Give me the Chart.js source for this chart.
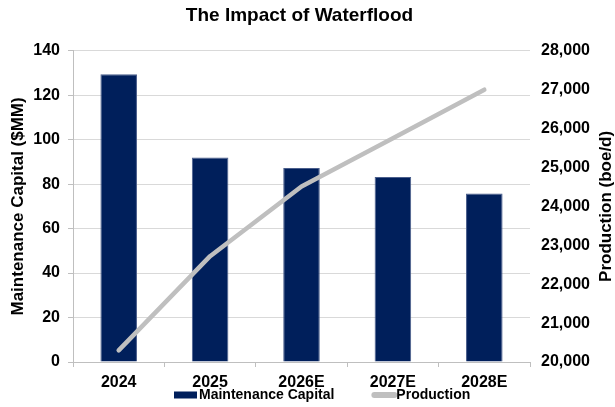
<!DOCTYPE html>
<html>
<head>
<meta charset="utf-8">
<script src="https://cdn.jsdelivr.net/npm/chart.js@4/dist/chart.umd.min.js"></script>
<style>
  html, body { margin: 0; padding: 0; background: #fff; }
  #wrap { width: 615px; height: 407px; }
</style>
</head>
<body>
<div id="wrap"><canvas id="chart"></canvas></div>
<script>
// chart data
var years = ['2024', '2025', '2026E', '2027E', '2028E'];
var maintCapital = [129.5, 92, 87.3, 83.2, 75.8];
var production = [20300, 22720, 24510, 25750, 27000];
var capitalTicks = [0, 140, 20];
var productionTicks = [20000, 28000, 1000];

var NAVY = '#001F5B',
	GREY = '#BFBFBF',
	FONT = '"Liberation Sans", Arial, sans-serif';

Chart.defaults.font.family = FONT;
Chart.defaults.color = '#000';

// right axis title reads bottom-to-top, so it is drawn here
var rightTitle = {
	id: 'rightTitle',
	afterDraw: function( chart ){
		var ctx = chart.ctx, a = chart.chartArea;
		ctx.save();
		ctx.translate( 606, ( a.top + a.bottom ) / 2 );
		ctx.rotate( -Math.PI / 2 );
		ctx.font = 'bold 17px ' + FONT;
		ctx.fillStyle = '#000';
		ctx.textAlign = 'center';
		ctx.textBaseline = 'middle';
		ctx.fillText( 'Production (boe/d)', 0, 0 );
		ctx.restore();
	}
};

// legend along the bottom edge
var bottomLegend = {
	id: 'bottomLegend',
	afterDraw: function( chart ){
		var ctx = chart.ctx,
			ds = chart.data.datasets,
			y = 395,
			x = 174;
		ctx.save();
		ctx.font = 'bold 14px ' + FONT;
		ctx.textBaseline = 'middle';
		ctx.fillStyle = '#000';
		for( var i = 0; i < ds.length; i++ ){
			if( ds[i].type == 'bar' ){
				ctx.fillStyle = ds[i].backgroundColor;
				ctx.fillRect( x, y - 3.5, 23, 7 );
			}else{
				ctx.strokeStyle = ds[i].borderColor;
				ctx.lineWidth = 6;
				ctx.lineCap = 'round';
				ctx.beginPath();
				ctx.moveTo( x + 3, y );
				ctx.lineTo( x + 23, y );
				ctx.stroke();
			}
			ctx.fillStyle = '#000';
			ctx.fillText( ds[i].label, x + 25, y );
			x += 25 + ctx.measureText( ds[i].label ).width + 37;
		}
		ctx.restore();
	}
};

new Chart( document.getElementById( 'chart' ).getContext( '2d' ), {
	data: {
		labels: years,
		datasets: [
			{
				type: 'bar',
				label: 'Maintenance Capital',
				data: maintCapital,
				yAxisID: 'y',
				backgroundColor: NAVY,
				borderColor: '#4A5E8C',
				borderWidth: 1,
				categoryPercentage: 1,
				barPercentage: 0.4,
				order: 1
			},
			{
				type: 'line',
				label: 'Production',
				data: production,
				yAxisID: 'y1',
				borderColor: GREY,
				borderWidth: 4.5,
				borderCapStyle: 'round',
				borderJoinStyle: 'round',
				pointRadius: 0,
				tension: 0,
				fill: false,
				order: 0
			}
		]
	},
	options: {
		responsive: true,
		maintainAspectRatio: false,
		animation: false,
		layout: { padding: { left: 0, right: 16, top: 0, bottom: 0 } },
		plugins: {
			legend: { display: false },
			tooltip: { enabled: false },
			title: {
				display: true,
				text: 'The Impact of Waterflood',
				font: { size: 19, weight: 'bold' },
				color: '#000',
				padding: { top: 4, bottom: 24 }
			}
		},
		scales: {
			x: {
				grid: { display: true, drawOnChartArea: false, offset: true, color: GREY, tickLength: 5 },
				border: { color: GREY },
				ticks: { font: { size: 16, weight: 'bold' }, padding: 6, maxRotation: 0 },
				afterFit: function( s ){ s.height = 45; }
			},
			y: {
				position: 'left',
				min: capitalTicks[0],
				max: capitalTicks[1],
				ticks: { stepSize: capitalTicks[2], font: { size: 16, weight: 'bold' }, padding: 8 },
				grid: { color: '#D9D9D9', tickColor: GREY, tickLength: 5 },
				border: { color: GREY },
				title: {
					display: true,
					text: 'Maintenance Capital ($MM)',
					font: { size: 17, weight: 'bold' },
					color: '#000',
					padding: { top: 8, bottom: 0 }
				},
				afterFit: function( s ){ s.width = 73; }
			},
			y1: {
				position: 'right',
				min: productionTicks[0],
				max: productionTicks[1],
				ticks: {
					stepSize: productionTicks[2],
					font: { size: 16, weight: 'bold' },
					padding: 11,
					callback: function( v ){ return v.toLocaleString( 'en-US' ); }
				},
				grid: { drawOnChartArea: false, drawTicks: false },
				border: { display: false },
				afterFit: function( s ){ s.width = 69; }
			}
		}
	},
	plugins: [ rightTitle, bottomLegend ]
} );
</script>
</body>
</html>
